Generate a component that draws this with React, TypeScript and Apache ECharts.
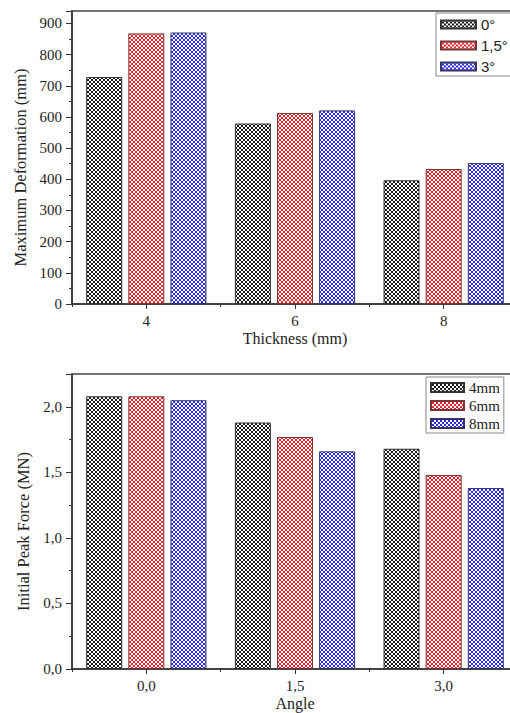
import React, { useEffect, useRef } from "react";
import * as echarts from "echarts";

const thicknessCats = ["4", "6", "8"];
const deform0 = [728, 579, 397];
const deform15 = [868, 613, 433];
const deform3 = [871, 621, 452];

const angleCats = ["0,0", "1,5", "3,0"];
const force4 = [2.08, 1.88, 1.68];
const force6 = [2.08, 1.77, 1.48];
const force8 = [2.05, 1.66, 1.38];

const topNames = ["0°", "1,5°", "3°"];
const bottomNames = ["4mm", "6mm", "8mm"];

const SERIF = "'Liberation Serif', 'Times New Roman', serif";
const SANS = "'Liberation Sans', Arial, sans-serif";

function makePattern(color: string) {
  const c = document.createElement("canvas");
  c.width = 8;
  c.height = 8;
  const ctx = c.getContext("2d")!;
  ctx.fillStyle = "#ffffff";
  ctx.fillRect(0, 0, 8, 8);
  ctx.strokeStyle = color;
  ctx.lineWidth = 1.0;
  for (let k = -8; k <= 16; k += 4) {
    ctx.beginPath();
    ctx.moveTo(k, 0);
    ctx.lineTo(k + 8, 8);
    ctx.stroke();
    ctx.beginPath();
    ctx.moveTo(k, 8);
    ctx.lineTo(k + 8, 0);
    ctx.stroke();
  }
  return { image: c, repeat: "repeat", imageWidth: 8, imageHeight: 8 } as any;
}

export default function App() {
  const ref = useRef<HTMLDivElement>(null);
  useEffect(() => {
    if (!ref.current) return;
    const chart = echarts.init(ref.current, undefined, { renderer: "svg" });
    const patBlack = makePattern("#1a1a1a");
    const patRed = makePattern("#e8222a");
    const patBlue = makePattern("#2a2ae8");
    const axisColor = "#333";
    const labelStyle = { fontFamily: SERIF, fontSize: 15, color: "#222" };
    const nameStyle = { fontFamily: SERIF, fontSize: 16, color: "#222" };

    const mkX = (gi: number, data: string[], name: string) => [
      {
        gridIndex: gi,
        type: "category",
        position: "bottom",
        data,
        axisLine: { show: true, lineStyle: { color: axisColor, width: 1.5 } },
        axisTick: { show: true, alignWithLabel: true, length: 5, lineStyle: { color: axisColor } },
        axisLabel: { ...labelStyle, margin: 9 },
        name,
        nameLocation: "middle",
        nameGap: 26,
        nameTextStyle: nameStyle,
      },
      {
        gridIndex: gi,
        type: "category",
        position: "bottom",
        data,
        axisLine: { show: false },
        axisTick: { show: true, length: 3, lineStyle: { color: axisColor } },
        axisLabel: { show: false },
      },
    ];

    const mkY = (gi: number, max: number, interval: number, name: string, fmt: (v: number) => string) => ({
      gridIndex: gi,
      type: "value",
      min: 0,
      max,
      interval,
      axisLine: { show: true, lineStyle: { color: axisColor, width: 1.5 } },
      axisTick: { show: true, length: 6, lineStyle: { color: axisColor } },
      minorTick: { show: true, splitNumber: 2, length: 3, lineStyle: { color: axisColor } },
      splitLine: { show: false },
      axisLabel: { ...labelStyle, margin: 10, showMaxLabel: false, formatter: fmt },
      name,
      nameLocation: "middle",
      nameGap: 37,
      nameTextStyle: { ...nameStyle, fontSize: 16.5, padding: [0, 20, 0, 0] },
    });

    const barBase = {
      type: "bar",
      barWidth: 36,
      barGap: "17%",
    };
    const pats = [patBlack, patRed, patBlue];
    const borders = ["#333", "#7a3333", "#333366"];

    const topData = [deform0, deform15, deform3];
    const botData = [force4, force6, force8];

    const series: any[] = [];
    topData.forEach((d, i) => {
      series.push({
        ...barBase,
        name: topNames[i],
        xAxisIndex: 0,
        yAxisIndex: 0,
        data: d,
        itemStyle: { color: pats[i], borderColor: borders[i], borderWidth: 1 },
      });
    });
    botData.forEach((d, i) => {
      series.push({
        ...barBase,
        name: bottomNames[i],
        xAxisIndex: 2,
        yAxisIndex: 1,
        data: d,
        itemStyle: { color: pats[i], borderColor: borders[i], borderWidth: 1 },
      });
    });

    const option: any = {
      animation: false,
      backgroundColor: "#ffffff",
      grid: [
        { left: 72, top: 11, width: 446, height: 293, show: true, borderColor: "#444", borderWidth: 1.5, backgroundColor: "transparent" },
        { left: 72, top: 374, width: 446, height: 295, show: true, borderColor: "#444", borderWidth: 1.5, backgroundColor: "transparent" },
      ],
      legend: [
        {
          data: topNames,
          orient: "vertical",
          left: 436,
          top: 13,
          padding: [4, 10, 2, 4],
          itemGap: 6,
          itemWidth: 35,
          itemHeight: 8,
          icon: "rect",
          selectedMode: false,
          borderColor: "#888",
          borderWidth: 1,
          backgroundColor: "#fff",
          textStyle: { fontFamily: SANS, fontSize: 15, color: "#222" },
        },
        {
          data: bottomNames,
          orient: "vertical",
          left: 426,
          top: 377,
          padding: [3, 4, 2, 4],
          itemGap: 3,
          itemWidth: 33,
          itemHeight: 9,
          icon: "rect",
          selectedMode: false,
          borderColor: "#888",
          borderWidth: 1,
          backgroundColor: "#fff",
          textStyle: { fontFamily: SERIF, fontSize: 15, color: "#222" },
        },
      ],
      xAxis: [...mkX(0, thicknessCats, "Thickness (mm)"), ...mkX(1, angleCats, "Angle")],
      yAxis: [
        mkY(0, 940, 100, "Maximum Deformation (mm)", (v: number) => String(v)),
        mkY(1, 2.25, 0.5, "Initial Peak Force (MN)", (v: number) => v.toFixed(1).replace(".", ",")),
      ],
      series,
    };
    chart.setOption(option);
    return () => chart.dispose();
  }, []);
  return (
    <div
      style={{ position: "fixed", left: 0, top: 0, width: 510, height: 713, overflow: "hidden", background: "#fff" }}
    >
      <div ref={ref} style={{ width: 540, height: 713 }} />
    </div>
  );
}
